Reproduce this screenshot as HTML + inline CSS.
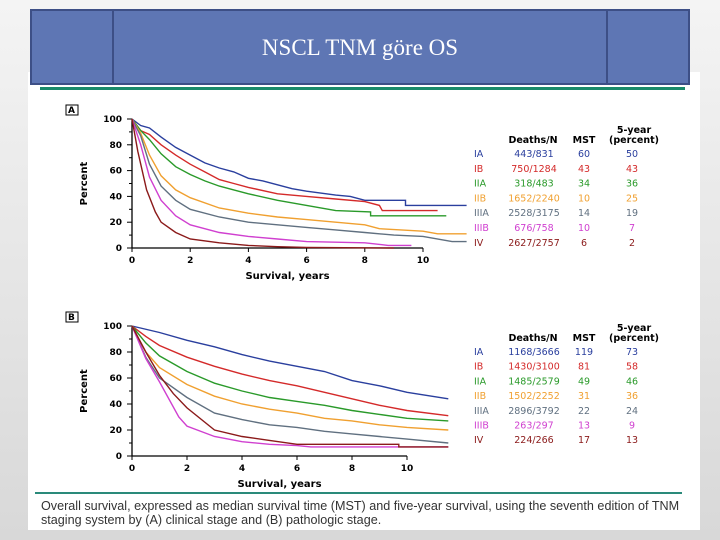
<!DOCTYPE html>
<html><head><meta charset="utf-8"><style>
body{margin:0;width:720px;height:540px;overflow:hidden;background:#e6e6e6;font-family:"Liberation Sans",sans-serif}
svg{display:block}
</style></head><body>
<svg id="s" width="720" height="540" xmlns="http://www.w3.org/2000/svg">
<defs><linearGradient id="bg" x1="0" y1="0" x2="0" y2="1"><stop offset="0" stop-color="#f4f4f4"/><stop offset="1" stop-color="#d8d8d8"/></linearGradient></defs>
<rect width="720" height="540" fill="url(#bg)"/>
<rect x="28" y="72" width="672" height="458" fill="#ffffff"/>
<g>
<rect x="31" y="10" width="658" height="74" fill="#5e76b4" stroke="#3d4f86" stroke-width="2"/>
<line x1="113" y1="10" x2="113" y2="84" stroke="#3d4f86" stroke-width="2"/>
<line x1="607" y1="10" x2="607" y2="84" stroke="#3d4f86" stroke-width="2"/>
<text x="360" y="55" text-anchor="middle" fill="#fff" font-family="Liberation Serif,serif" font-size="23">NSCL TNM göre OS</text>
</g>
<rect x="40" y="87" width="645" height="3" fill="#1a8a6a"/>
<rect x="35" y="492" width="647" height="2" fill="#2a8a7a"/>
<text x="41" y="510" font-size="12.6" fill="#333">Overall survival, expressed as median survival time (MST) and five-year survival, using the seventh edition of TNM</text>
<text x="41" y="524" font-size="12.6" fill="#333">staging system by (A) clinical stage and (B) pathologic stage.</text>
<g id="gA"></g><g id="gB"></g>
</svg>
<script>
const NS="http://www.w3.org/2000/svg";
const stages=["IA","IB","IIA","IIB","IIIA","IIIB","IV"];
const colors=["#2a3f9e","#d42a2a","#2a9a2a","#f0a030","#607080","#d040d0","#8b1a1a"];
const xTicks=[0,2,4,6,8,10];
const yTicks=[0,20,40,60,80,100];
const A_IA=[[0,100],[0.3,95],[0.6,93],[1,86],[1.5,78],[2,72],[2.5,66],[3,62],[3.5,59],[4,54],[4.5,52],[5,49],[5.5,46],[6,44],[7,41],[7.5,40],[8,37],[9.4,37],[9.4,33],[11.5,33]];
const A_IB=[[0,100],[0.3,91],[0.6,88],[1,80],[1.5,72],[2,65],[2.5,59],[3,53],[3.5,50],[4,47],[5,42],[6,40],[7,38],[8,36],[8.5,33],[8.6,29],[10.5,29]];
const A_IIA=[[0,100],[0.3,91],[0.6,84],[1,73],[1.5,63],[2,57],[2.5,52],[3,48],[3.5,45],[4,42],[5,37],[6,33],[7,29],[8.2,28],[8.2,25],[10.8,25]];
const A_IIB=[[0,100],[0.3,89],[0.6,72],[1,56],[1.5,45],[2,39],[3,31],[4,27],[5,24],[6,22],[7,20],[8,18],[8.5,15],[10,13],[10.5,11],[11.5,11]];
const A_IIIA=[[0,100],[0.3,87],[0.6,65],[1,48],[1.5,37],[2,30],[3,24],[4,20],[5,18],[6,16],[7,14],[8,12],[9,10],[10,9],[11,5],[11.5,5]];
const A_IIIB=[[0,100],[0.3,80],[0.6,55],[1,37],[1.5,25],[2,18],[3,12],[4,9],[5,7],[6,5],[8,4],[8.8,2],[9.6,2]];
const A_IV=[[0,100],[0.2,75],[0.5,45],[0.8,28],[1,20],[1.5,12],[2,7],[3,4],[4,2],[5,1],[6,0.5],[9,0]];
const B_IA=[[0,100],[1,95],[2,89],[3,84],[4,78],[5,73],[6,69],[7,65],[8,58],[9,54],[10,49],[11.5,44]];
const B_IB=[[0,100],[0.5,92],[1,85],[2,76],[3,69],[4,63],[5,58],[6,54],[7,49],[8,44],[9,39],[10,35],[11.5,31]];
const B_IIA=[[0,100],[0.5,87],[1,77],[2,65],[3,56],[4,50],[5,45],[6,42],[7,39],[8,35],[9,32],[10,29],[11.5,27]];
const B_IIB=[[0,100],[0.5,80],[1,68],[2,55],[3,46],[4,40],[5,36],[6,33],[7,29],[8,27],[9,24],[10,22],[11.5,20]];
const B_IIIA=[[0,100],[0.5,76],[1,60],[2,45],[3,33],[4,28],[5,24],[6,22],[7,19],[8,17],[9,15],[10,13],[11.5,10]];
const B_IIIB=[[0,100],[0.5,75],[1,57],[1.7,30],[2,23],[3,15],[3.5,13],[4,11],[5,9],[6,8],[6.5,7],[11.5,7]];
const B_IV=[[0,100],[0.5,80],[1,62],[1.5,48],[2,37],[3,20],[4,15],[5,12],[6,9],[9.7,9],[9.7,7],[11.5,7]];
const A_deaths=["443/831","750/1284","318/483","1652/2240","2528/3175","676/758","2627/2757"];
const A_mst=["60","43","34","10","14","10","6"];
const A_5yr=["50","43","36","25","19","7","2"];
const B_deaths=["1168/3666","1430/3100","1485/2579","1502/2252","2896/3792","263/297","224/266"];
const B_mst=["119","81","49","31","22","13","17"];
const B_5yr=["73","58","46","36","24","9","13"];
const F="DejaVu Sans, sans-serif";

function el(p,t,a,txt){const e=document.createElementNS(NS,t);for(const k in a)e.setAttribute(k,a[k]);if(txt!==undefined)e.textContent=txt;p.appendChild(e);return e;}
function chart(g,cfg){
  g.setAttribute("font-family",F);
  const sx=t=>cfg.x0+(cfg.x10-cfg.x0)*t/10, sy=v=>cfg.y0+(cfg.y100-cfg.y0)*v/100;
  const lbl=el(g,"text",{x:cfg.lx+2,y:cfg.y100-6,"font-size":9,"font-weight":"bold",fill:"#000"},cfg.label);
  
  
  el(g,"rect",{x:cfg.lx,y:cfg.y100-14,width:12,height:10,fill:"none",stroke:"#000","stroke-width":1});
  const ax=el(g,"path",{d:`M${cfg.x0},${cfg.y100} V${cfg.y0} H${cfg.x10}`,stroke:"#000",fill:"none","stroke-width":1.3});
  
  
  yTicks.forEach(v=>{el(g,"line",{x1:cfg.x0-5,x2:cfg.x0,y1:sy(v),y2:sy(v),stroke:"#000"});
    const t=el(g,"text",{x:cfg.x0-10,y:sy(v)+3,"font-size":9,"font-weight":"bold","text-anchor":"end"},v);
    
    });
  for(let v=10;v<100;v+=20)el(g,"line",{x1:cfg.x0-3,x2:cfg.x0,y1:sy(v),y2:sy(v),stroke:"#000"});
  xTicks.forEach(v=>{el(g,"line",{x1:sx(v),x2:sx(v),y1:cfg.y0,y2:cfg.y0+4,stroke:"#000"});
    const t=el(g,"text",{x:sx(v),y:cfg.y0+15,"font-size":9,"font-weight":"bold","text-anchor":"middle"},v);
    
    });
  const xt=el(g,"text",{x:(cfg.x0+cfg.x10)/2+10,y:cfg.y0+31,"font-size":10,"font-weight":"bold","text-anchor":"middle"},"Survival, years");
  
  
  const cy=(cfg.y0+cfg.y100)/2;
  const yt=el(g,"text",{x:87,y:cy,"font-size":10,"font-weight":"bold","text-anchor":"middle",transform:`rotate(-90 87 ${cy})`},"Percent");
  
  
  cfg.series.forEach((s,i)=>{
    let d="";s.forEach((p,j)=>{d+=(j?"L":"M")+sx(p[0]).toFixed(1)+","+sy(p[1]).toFixed(1);});
    const pth=el(g,"path",{d:d,stroke:colors[i],fill:"none","stroke-width":1.4});
    
    
  });
  const ty=cfg.legY;
  el(g,"text",{x:634,y:ty-24,"font-size":9.5,"font-weight":"bold","text-anchor":"middle"},"5-year");
  el(g,"text",{x:634,y:ty-14,"font-size":9.5,"font-weight":"bold","text-anchor":"middle"},"(percent)");
  el(g,"text",{x:533,y:ty-14,"font-size":9.5,"font-weight":"bold","text-anchor":"middle"},"Deaths/N");
  el(g,"text",{x:584,y:ty-14,"font-size":9.5,"font-weight":"bold","text-anchor":"middle"},"MST");
  stages.forEach((st,i)=>{
    const y=ty+i*cfg.rowH;
    const r=el(g,"g",{fill:colors[i],"font-size":9.5});
    
    
    el(r,"text",{x:474,y:y},st);
    el(r,"text",{x:534,y:y,"text-anchor":"middle"},cfg.deaths[i]);
    el(r,"text",{x:584,y:y,"text-anchor":"middle"},cfg.mst[i]);
    el(r,"text",{x:632,y:y,"text-anchor":"middle"},cfg.fy[i]);
  });
}
chart(document.getElementById("gA"),{label:"A",lx:66,x0:132,x10:423,y0:248,y100:119,legY:157,rowH:14.8,
  series:[A_IA,A_IB,A_IIA,A_IIB,A_IIIA,A_IIIB,A_IV],deaths:A_deaths,mst:A_mst,fy:A_5yr});
chart(document.getElementById("gB"),{label:"B",lx:66,x0:132,x10:407,y0:456,y100:326,legY:355,rowH:14.7,
  series:[B_IA,B_IB,B_IIA,B_IIB,B_IIIA,B_IIIB,B_IV],deaths:B_deaths,mst:B_mst,fy:B_5yr});
</script>
</body></html>
